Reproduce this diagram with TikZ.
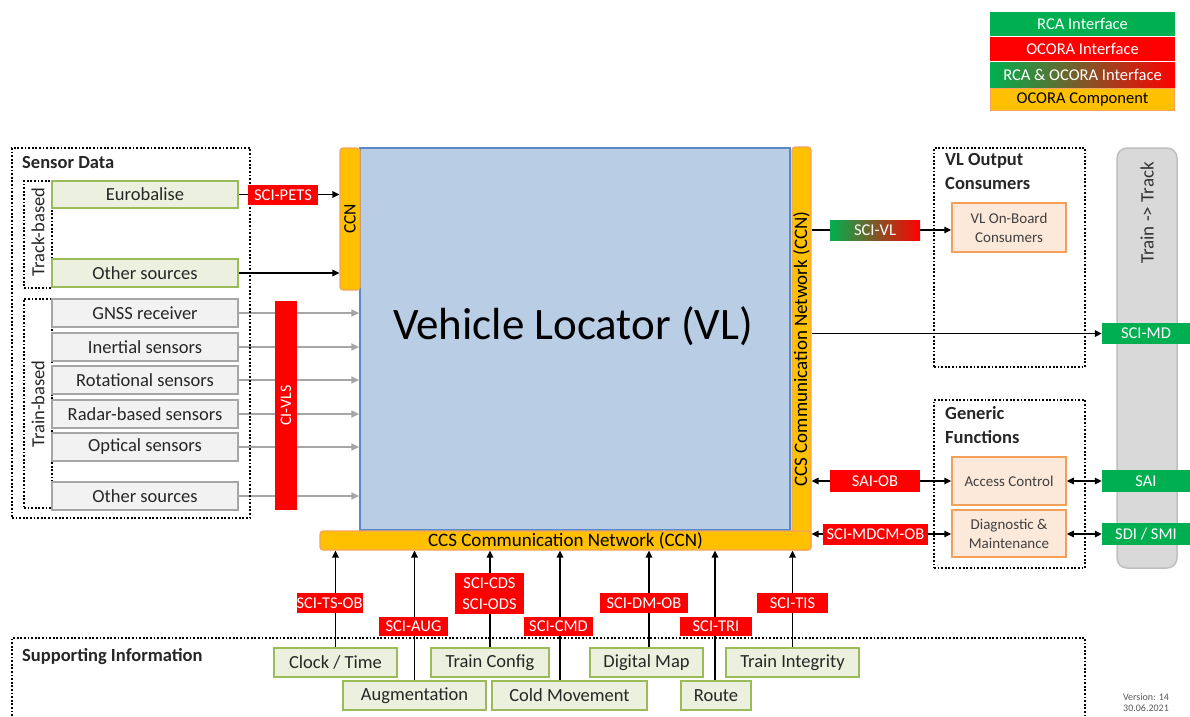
\documentclass[tikz,border=0pt]{standalone}
\usepackage{fontspec}
\setmainfont{Carlito}
\usetikzlibrary{arrows.meta}
\definecolor{rgreen}{HTML}{00B050}
\definecolor{ored}{HTML}{FF0000}
\definecolor{ccnor}{HTML}{FFC000}
\definecolor{ccnln}{HTML}{F4A460}
\definecolor{vlfill}{HTML}{B9CDE5}
\definecolor{vlline}{HTML}{5A8AC6}
\definecolor{sgfill}{HTML}{EBF1DE}
\definecolor{sgline}{HTML}{9BBB59}
\definecolor{gfill}{HTML}{F2F2F2}
\definecolor{gline}{HTML}{A6A6A6}
\definecolor{cfill}{HTML}{FDE9D9}
\definecolor{cline}{HTML}{F5A05A}
\definecolor{ttfill}{HTML}{D9D9D9}
\definecolor{ttline}{HTML}{BFBFBF}
\definecolor{txt}{HTML}{262626}
\newcommand{\fsz}[2]{\fontsize{#1}{#2}\selectfont}
\pgfdeclarelayer{back}
\pgfsetlayers{back,main}
\begin{document}
\begin{tikzpicture}[x=1pt,y=-1pt,
  bx/.style={inner sep=0pt, align=center, text=txt},
  sens/.style={bx, fill=sgfill, draw=sgline, line width=2pt, font=\fsz{18.5}{22}},
  trn/.style={bx, fill=gfill, draw=gline, line width=2pt, font=\fsz{18.5}{22}},
  redl/.style={inner sep=0pt, align=center, fill=ored, text=white, font=\fsz{16.5}{21}},
  grnl/.style={inner sep=0pt, align=center, fill=rgreen, text=white, font=\fsz{16.5}{21}},
  comp/.style={bx, fill=cfill, draw=cline, line width=1.5pt, font=\fsz{15}{19}, text=black!75},
  ccnbar/.style={fill=ccnor, draw=ccnln, line width=1.2pt, rounded corners=3pt, inner sep=0pt},
  dotbox/.style={draw=black, line width=1.8pt, dash pattern=on 1.8pt off 1.8pt, inner sep=0pt},
  grp/.style={font=\bfseries\fsz{18.5}{24}, align=left, inner sep=0pt, text=txt},
  arr/.style={line width=1.5pt, -{Triangle[length=7pt,width=6.5pt]}},
  darr/.style={line width=1.5pt, {Triangle[length=7pt,width=6.5pt]}-{Triangle[length=7pt,width=6.5pt]}},
  garr/.style={draw=gline, line width=2.2pt, -{Triangle[length=8pt,width=7pt]}, gline},
]
\useasboundingbox (0,0) rectangle (1190,716);

% Legend
\node[grnl, minimum width=185, minimum height=24] (legrca) at (1082.5,24) {RCA Interface};
\node[redl, minimum width=185, minimum height=24] (legoc) at (1082.5,49) {OCORA Interface};
\node[inner sep=0pt, left color=rgreen, right color=ored, text=white, font=\fsz{16.5}{21}, minimum width=185, minimum height=25] (legboth) at (1082.5,74.5) {RCA \& OCORA Interface};
\node[inner sep=0pt, fill=ccnor, draw=ccnln, line width=1.2pt, font=\fsz{16.5}{21}, minimum width=184, minimum height=22] (legcomp) at (1082.5,99.5) {OCORA Component};

% Sensor Data group
\node[dotbox, minimum width=238, minimum height=370] (sensgrp) at (131,333) {};
\node[grp, anchor=base west] (senstitle) at (22,168) {Sensor Data};
\node[dotbox, minimum width=28, minimum height=107] (trackb) at (38,234.5) {};
\node[rotate=90, font=\fsz{18.5}{22}, text=txt] (trackbt) at (38,232) {Track-based};
\node[dotbox, minimum width=28, minimum height=209] (trainb) at (38,403.5) {};
\node[rotate=90, font=\fsz{18.5}{22}, text=txt] (trainbt) at (38,404) {Train-based};

\node[sens, minimum width=186, minimum height=27] (eurob) at (145,194.5) {Eurobalise};
\node[sens, minimum width=186, minimum height=28] (othert) at (145,273) {Other sources};
\node[trn, minimum width=186, minimum height=28] (gnss) at (145,313) {GNSS receiver};
\node[trn, minimum width=186, minimum height=28] (inert) at (145,347) {Inertial sensors};
\node[trn, minimum width=186, minimum height=28] (rotat) at (145,380) {Rotational sensors};
\node[trn, minimum width=186, minimum height=28] (radar) at (145,414) {Radar-based sensors};
\node[trn, minimum width=186, minimum height=28] (optic) at (145,447) {Optical sensors};
\node[trn, minimum width=186, minimum height=28] (othertr) at (145,496) {Other sources};

% Vehicle locator and CCN
\node[fill=vlfill, draw=vlline, line width=1.5pt, inner sep=0pt, minimum width=430, minimum height=382] (vl) at (575,339) {};
\node[font=\fsz{45}{50}, text=black] (vlt) at (573,326) {Vehicle Locator (VL)};
\node[ccnbar, minimum width=20, minimum height=142] (ccnl) at (350,219) {};
\node[rotate=90, font=\fsz{17.5}{20}] (ccnlt) at (350,219) {CCN};
\node[ccnbar, minimum width=19, minimum height=403] (ccnr) at (801.5,348.5) {};
\node[ccnbar, minimum width=491, minimum height=19] (ccnb) at (565.5,540.5) {};
\node[rotate=90, font=\fsz{19}{22}] (ccnrt) at (801.5,349) {CCS Communication Network (CCN)};
\node[font=\fsz{19}{22}] (ccnbt) at (565.5,540.5) {CCS Communication Network (CCN)};

\node[redl, minimum width=22, minimum height=209] (civls) at (286,405.5) {};
\node[rotate=90, text=white, font=\fsz{16}{20}] (civlst) at (286,405.5) {CI-VLS};
\node[redl, minimum width=70, minimum height=20] (scipets) at (283,195) {SCI-PETS};

% Right side
\node[dotbox, minimum width=151, minimum height=219] (vlogrp) at (1009.5,257.5) {};
\node[grp, anchor=north west] (vlotitle) at (945,153) {VL Output\\Consumers};
\node[comp, minimum width=114, minimum height=49] (vlob) at (1009,227.5) {VL On-Board\\Consumers};
\node[dotbox, minimum width=151, minimum height=168] (gengrp) at (1009.5,484) {};
\node[grp, anchor=north west] (gentitle) at (945,406) {Generic\\Functions};
\node[comp, minimum width=114, minimum height=48] (acc) at (1009,481) {Access Control};
\node[comp, minimum width=114, minimum height=47] (diag) at (1009,533.5) {Diagnostic \&\\Maintenance};

\node[fill=ttfill, draw=ttline, line width=1.5pt, rounded corners=10pt, inner sep=0pt, minimum width=60, minimum height=420] (tt) at (1147,358) {};
\node[rotate=90, font=\fsz{19}{22}, text=black!80] (ttt) at (1147,213) {Train -> Track};

\node[inner sep=0pt, left color=rgreen, right color=ored, text=white, font=\fsz{16.5}{21}, minimum width=90, minimum height=20] (scivl) at (875,230) {SCI-VL};
\node[grnl, minimum width=88, minimum height=21] (scimd) at (1146,333.5) {SCI-MD};
\node[redl, minimum width=90, minimum height=22] (saiob) at (875,481) {SAI-OB};
\node[redl, minimum width=105, minimum height=21] (mdcm) at (875.5,534) {SCI-MDCM-OB};
\node[grnl, minimum width=88, minimum height=22] (sai) at (1146,481) {SAI};
\node[grnl, minimum width=88, minimum height=22] (sdi) at (1146,534) {SDI / SMI};

% Supporting information
\begin{pgfonlayer}{back}
\draw[dotbox] (12,716) -- (12,638) -- (1085,638) -- (1085,716);
\end{pgfonlayer}
\node[grp, anchor=base west] (suptitle) at (22,661) {Supporting Information};
\node[sens, minimum width=123, minimum height=29] (clock) at (335.5,662.5) {Clock / Time};
\node[sens, minimum width=118, minimum height=29] (tconf) at (490,662.5) {Train Config};
\node[sens, minimum width=113, minimum height=29] (dmap) at (646.5,662.5) {Digital Map};
\node[sens, minimum width=133, minimum height=29] (tint) at (792.5,662.5) {Train Integrity};
\node[sens, minimum width=143, minimum height=29] (augm) at (414.5,695.5) {Augmentation};
\node[sens, minimum width=155, minimum height=29] (cold) at (569.5,695.5) {Cold Movement};
\node[sens, minimum width=70, minimum height=29] (route) at (716,695.5) {Route};

\node[redl, minimum width=66, minimum height=20] (tsob) at (329.5,603) {SCI-TS-OB};
\node[redl, minimum width=69, minimum height=19] (aug) at (413.5,626.5) {SCI-AUG};
\node[redl, minimum width=69, minimum height=41] (cds) at (489.5,593.5) {SCI-CDS\\SCI-ODS};
\node[redl, minimum width=69, minimum height=19] (cmd) at (558.5,626.5) {SCI-CMD};
\node[redl, minimum width=88, minimum height=20] (dmob) at (644,603) {SCI-DM-OB};
\node[redl, minimum width=72, minimum height=19] (tri) at (716,626.5) {SCI-TRI};
\node[redl, minimum width=71, minimum height=20] (tis) at (792.5,603) {SCI-TIS};

\node[font=\fsz{10}{11}, text=black!65, align=center, anchor=south] (ver) at (1146,715) {Version: 14\\30.06.2021};

% Connectors
\begin{pgfonlayer}{back}
\draw[arr] (eurob.east) -- (eurob.east -| ccnl.west);
\draw[arr] (othert.east) -- (othert.east -| ccnl.west);
\foreach \n in {gnss,inert,rotat,radar,optic,othertr}
  \draw[garr] (\n.east) -- (\n.east -| vl.west);
\draw[arr] (ccnr.east |- scivl.west) -- (scivl.west -| vlob.west);
\draw[arr] (ccnr.east |- scimd.west) -- (scimd.west);
\draw[darr] (ccnr.east |- acc.west) -- (acc.west);
\draw[darr] (ccnr.east |- mdcm.west) -- (mdcm.west -| diag.west);
\draw[darr] (acc.east) -- (sai.west);
\draw[darr] (diag.east |- sdi.west) -- (sdi.west);
\draw[arr] (clock.north) -- (clock.north |- ccnb.south);
\draw[arr] (augm.north) -- (augm.north |- ccnb.south);
\draw[arr] (tconf.north) -- (tconf.north |- ccnb.south);
\draw[arr] ([xshift=-9.5pt]cold.north) -- ([xshift=-9.5pt]cold.north |- ccnb.south);
\draw[arr] ([xshift=2.5pt]dmap.north) -- ([xshift=2.5pt]dmap.north |- ccnb.south);
\draw[arr] ([xshift=-1pt]route.north) -- ([xshift=-1pt]route.north |- ccnb.south);
\draw[arr] (tint.north) -- (tint.north |- ccnb.south);
\end{pgfonlayer}
\end{tikzpicture}
\end{document}
